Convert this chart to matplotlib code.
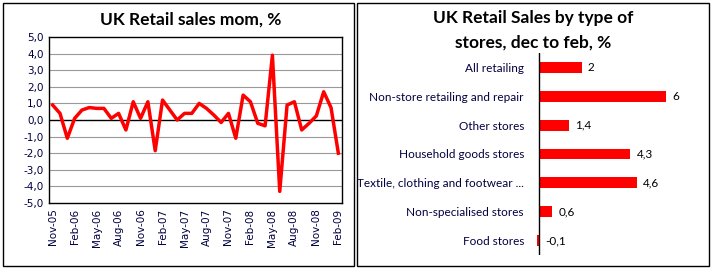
import numpy as np
import matplotlib.pyplot as plt
from matplotlib.patches import Rectangle

# monthly retail sales change, Nov-05 .. Feb-09
months = ['Nov-05', 'Dec-05', 'Jan-06', 'Feb-06', 'Mar-06', 'Apr-06', 'May-06', 'Jun-06',
          'Jul-06', 'Aug-06', 'Sep-06', 'Oct-06', 'Nov-06', 'Dec-06', 'Jan-07', 'Feb-07',
          'Mar-07', 'Apr-07', 'May-07', 'Jun-07', 'Jul-07', 'Aug-07', 'Sep-07', 'Oct-07',
          'Nov-07', 'Dec-07', 'Jan-08', 'Feb-08', 'Mar-08', 'Apr-08', 'May-08', 'Jun-08',
          'Jul-08', 'Aug-08', 'Sep-08', 'Oct-08', 'Nov-08', 'Dec-08', 'Jan-09', 'Feb-09']
mom = [0.9, 0.4, -1.1, 0.1, 0.6, 0.75, 0.7, 0.7, 0.1, 0.4,
       -0.6, 1.1, 0.1, 1.1, -1.85, 1.2, 0.6, 0.0, 0.4, 0.4,
       1.0, 0.7, 0.3, -0.15, 0.4, -1.1, 1.5, 1.1, -0.2, -0.35,
       3.9, -4.3, 0.9, 1.1, -0.6, -0.2, 0.25, 1.7, 0.75, -2.0]

stores = ['All retailing', 'Non-store retailing and repair', 'Other stores',
          'Household goods stores', 'Textile, clothing and footwear ...',
          'Non-specialised stores', 'Food stores']
change = [2, 6, 1.4, 4.3, 4.6, 0.6, -0.1]
change_lbl = ['2', '6', '1,4', '4,3', '4,6', '0,6', '-0,1']

W, H = 712, 269
fig = plt.figure(figsize=(W / 100, H / 100), dpi=100)

def box(x0, y0, x1, y1):
    # pixel box (top-left origin) -> figure fraction rect
    return [x0 / W, 1 - y1 / H, (x1 - x0) / W, (y1 - y0) / H]

# panel frames
for x0, x1 in [(3, 354), (357, 709)]:
    fig.patches.append(Rectangle((x0 / W, 3 / H), (x1 - x0) / W, (266 - 3) / H,
                                 transform=fig.transFigure, fill=False,
                                 edgecolor='black', lw=1))

# ---- left: line chart
ax1 = fig.add_axes(box(49, 37, 342, 203))
x = np.arange(len(mom))
for v in range(-4, 5):
    if v != 0:
        ax1.axhline(v, color='#999999', lw=0.8, zorder=1)
ax1.axhline(0, color='black', lw=1, zorder=2)
ax1.plot(x, mom, color='#ff0000', lw=2.5, zorder=3)
ax1.set_xlim(-0.5, len(mom) - 0.5)
ax1.set_ylim(-5, 5)
ax1.set_yticks(range(-5, 6))
ax1.set_yticklabels([f'{v},0' for v in range(-5, 6)], fontsize=7.5, color='#000040')
ax1.set_xticks(x[::3])
ax1.set_xticklabels(months[::3], rotation=90, fontsize=7.5, color='#000040')
ax1.tick_params(length=0, pad=4)
for s in ax1.spines.values():
    s.set_linewidth(1)
fig.text(191 / W, 1 - 20 / H, 'UK Retail sales mom, %', ha='center', va='center',
         fontsize=12.5, fontweight='bold', family='Lato')

# ---- right: bar chart
ax2 = fig.add_axes(box(535, 53, 700, 255))
y = np.arange(len(stores))
ax2.barh(y, change, height=0.38, color='#ff0000')
ax2.axvline(0, color='black', lw=1)
ax2.set_xlim(-0.2, 7.6)
ax2.set_ylim(len(stores) - 0.5, -0.5)
ax2.set_yticks(y)
ax2.set_yticklabels(stores, fontsize=8.5, family='Lato', color='#000040')
ax2.set_xticks([])
ax2.tick_params(length=0, pad=8)
for s in ax2.spines.values():
    s.set_visible(False)
for yi, v, t in zip(y, change, change_lbl):
    ax2.text(max(v, 0) + 0.3, yi, t, va='center', ha='left', fontsize=8.5, family='Lato')
fig.text(533 / W, 1 - 18 / H, 'UK Retail Sales by type of', ha='center', va='center',
         fontsize=12.5, fontweight='bold', family='Lato')
fig.text(533 / W, 1 - 43 / H, 'stores, dec to feb, %', ha='center', va='center',
         fontsize=12.5, fontweight='bold', family='Lato')

fig.savefig('out.png', dpi=100)
